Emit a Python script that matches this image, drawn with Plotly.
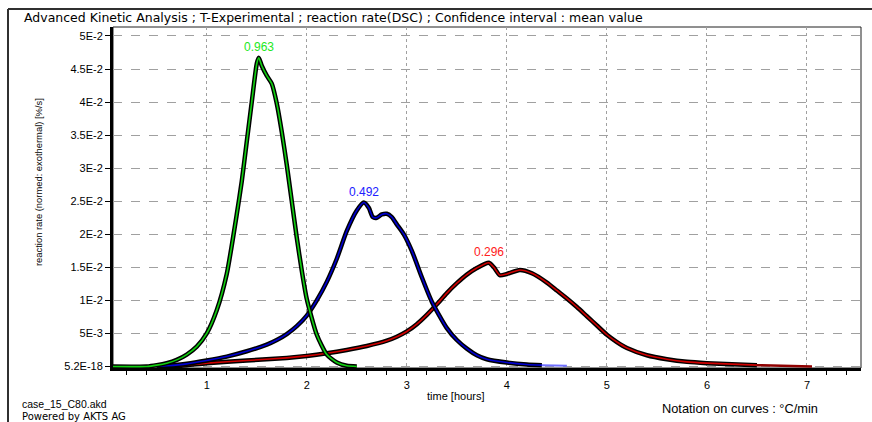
import plotly.graph_objects as go

# ---------------- data ----------------
green_t = [0.06, 0.4, 0.5, 0.6, 0.7, 0.8, 0.9, 1.0, 1.1, 1.2, 1.3, 1.35, 1.4, 1.45, 1.5, 1.52,
           1.55, 1.6, 1.65, 1.7, 1.75, 1.8, 1.85, 1.9, 1.95, 2.0, 2.1, 2.2, 2.3, 2.4, 2.5]
green_v = [0, 0, 0.0002, 0.0005, 0.0010, 0.0018, 0.0030, 0.0050, 0.0085, 0.0140, 0.0230, 0.0280,
           0.0340, 0.0400, 0.0458, 0.0467, 0.0455, 0.0440, 0.0428, 0.0398, 0.0355, 0.0305, 0.0250,
           0.0195, 0.0145, 0.0102, 0.0048, 0.0018, 0.0006, 0.0001, 0]

blue_t = [0.5, 0.6, 0.8, 1.0, 1.2, 1.4, 1.6, 1.7, 1.8, 1.9, 2.0, 2.1, 2.2, 2.3, 2.4, 2.5, 2.57,
          2.62, 2.66, 2.70, 2.75, 2.8, 2.85, 2.9, 2.97, 3.05, 3.15, 3.25, 3.4, 3.5, 3.6, 3.7,
          3.8, 4.0, 4.2, 4.35]
blue_v = [0, 0.0001, 0.0004, 0.0009, 0.0015, 0.0023, 0.0033, 0.0040, 0.0049, 0.0061, 0.0077,
          0.0100, 0.0128, 0.0163, 0.0205, 0.0236, 0.0248, 0.0240, 0.0226, 0.0225, 0.0230, 0.0231,
          0.0226, 0.0215, 0.0200, 0.0175, 0.0135, 0.0098, 0.0058, 0.0040, 0.0027, 0.0017, 0.0011,
          0.0006, 0.0003, 0.0002]
blue_tail_t = [4.35, 4.6]
blue_tail_v = [0.0002, 0.0001]

red_t = [0.6, 0.8, 1.0, 1.4, 1.8, 2.0, 2.2, 2.4, 2.6, 2.8, 2.9, 3.0, 3.1, 3.2, 3.3, 3.4, 3.5,
         3.6, 3.7, 3.82, 3.87, 3.93, 4.0, 4.13, 4.25, 4.4, 4.5, 4.6, 4.7, 4.8, 4.9, 5.0, 5.1,
         5.2, 5.4, 5.6, 5.8, 6.0, 6.5]
red_v = [0, 0.0002, 0.0005, 0.0009, 0.0013, 0.0016, 0.0020, 0.0025, 0.0031, 0.0039, 0.0045,
         0.0053, 0.0064, 0.0078, 0.0094, 0.0111, 0.0126, 0.0139, 0.0149, 0.0157, 0.0150, 0.0138,
         0.0140, 0.0146, 0.0141, 0.0127, 0.0115, 0.0103, 0.0090, 0.0076, 0.0062, 0.0048, 0.0037,
         0.0028, 0.0017, 0.0011, 0.0007, 0.0005, 0.0002]
red_tail_t = [6.5, 7.0, 7.05]
red_tail_v = [0.0002, 0.0001, 0]

rates = ["0.963", "0.492", "0.296"]
peak_t = [1.52, 2.57, 3.82]
peak_v = [0.0467, 0.0248, 0.0157]
label_colors = ["#22e822", "#2020ff", "#ff2020"]

ytick_vals = [0, 0.005, 0.01, 0.015, 0.02, 0.025, 0.03, 0.035, 0.04, 0.045, 0.05]
ytick_text = ["5.2E-18", "5E-3", "1E-2", "1.5E-2", "2E-2", "2.5E-2", "3E-2", "3.5E-2", "4E-2",
              "4.5E-2", "5E-2"]
xtick_vals = [1, 2, 3, 4, 5, 6, 7]

# ---------------- layout geometry ----------------
W, H = 872, 422
L, R, T, B = 113, 861, 27, 368


def px(x):
    return (x - L) / (R - L)


def py(y):
    return (B - y) / (B - T)


FONT = "Arial, Liberation Sans, sans-serif"
WIDE = "DejaVu Sans, Verdana, sans-serif"

fig = go.Figure()


def curve(t, v, color, w_out=4.5, w_in=1.6):
    fig.add_trace(go.Scatter(x=t, y=v, mode="lines", line=dict(color="black", width=w_out,
                  shape="spline", smoothing=0.6), hoverinfo="skip", showlegend=False))
    fig.add_trace(go.Scatter(x=t, y=v, mode="lines", line=dict(color=color, width=w_in,
                  shape="spline", smoothing=0.6), showlegend=False))


curve(red_t, red_v, "#d00000")
fig.add_trace(go.Scatter(x=red_tail_t, y=red_tail_v, mode="lines",
                         line=dict(color="#900000", width=2.5), showlegend=False))
curve(blue_t, blue_v, "#0000d0")
fig.add_trace(go.Scatter(x=blue_tail_t, y=blue_tail_v, mode="lines",
                         line=dict(color="#7070ff", width=2), showlegend=False))
curve(green_t, green_v, "#10d010")

for r, t, v, c in zip(rates, peak_t, peak_v, label_colors):
    fig.add_annotation(x=t, y=v, text=r, showarrow=False, yanchor="bottom", yshift=2,
                       font=dict(family=FONT, size=12, color=c))

# outer frame and plot border
fig.add_shape(type="line", xref="paper", yref="paper", x0=px(8), x1=px(872), y0=py(9), y1=py(9),
              line=dict(color="#303030", width=2))
fig.add_shape(type="line", xref="paper", yref="paper", x0=px(8), x1=px(8), y0=py(9), y1=py(422),
              line=dict(color="#303030", width=2))
fig.add_shape(type="rect", xref="paper", yref="paper", x0=0, x1=1, y0=0, y1=1,
              line=dict(color="#202020", width=1), layer="below")

# texts
fig.add_annotation(xref="paper", yref="paper", x=px(22), y=py(17), xanchor="left", yanchor="middle",
                   text="Advanced Kinetic Analysis ; T-Experimental ; reaction rate(DSC) ; Confidence interval : mean value",
                   showarrow=False, font=dict(family=WIDE, size=12.5, color="black"))
fig.add_annotation(xref="paper", yref="paper", x=px(38), y=py(182), xanchor="center", yanchor="middle",
                   text="reaction rate (normed: exothermal) [%/s]", textangle=-90,
                   showarrow=False, font=dict(family=FONT, size=9.4, color="black"))
fig.add_annotation(xref="paper", yref="paper", x=px(455), y=py(396), xanchor="center", yanchor="middle",
                   text="time [hours]", showarrow=False, font=dict(family=FONT, size=11, color="black"))
fig.add_annotation(xref="paper", yref="paper", x=px(20), y=py(404), xanchor="left", yanchor="middle",
                   text="case_15_C80.akd", showarrow=False, font=dict(family=FONT, size=10.5, color="black"))
fig.add_annotation(xref="paper", yref="paper", x=px(20), y=py(416), xanchor="left", yanchor="middle",
                   text="Powered by AKTS AG", showarrow=False, font=dict(family=WIDE, size=10, color="black"))
fig.add_annotation(xref="paper", yref="paper", x=px(820), y=py(409), xanchor="right", yanchor="middle",
                   text="Notation on curves : °C/min", showarrow=False,
                   font=dict(family=FONT, size=12.8, color="black"))

fig.update_layout(
    width=W, height=H,
    margin=dict(l=L, r=W - R, t=T, b=H - B, pad=0),
    paper_bgcolor="white", plot_bgcolor="white",
    font=dict(family=FONT, size=11, color="black"),
    xaxis=dict(range=[0.063, 7.54], tickvals=xtick_vals, ticks="outside", ticklen=5,
               tickcolor="black", showline=True, linecolor="black", linewidth=3,
               showgrid=True, gridcolor="#a0a0a0", griddash="dot", gridwidth=1, zeroline=False,
               minor=dict(dtick=0.2, ticks="outside", ticklen=4, tickcolor="black", showgrid=False),
               tickfont=dict(family=FONT, size=11), fixedrange=True),
    yaxis=dict(range=[-0.00023, 0.05136], tickvals=ytick_vals, ticktext=ytick_text,
               ticks="outside", ticklen=5, tickcolor="black", showline=True, linecolor="black",
               linewidth=3, showgrid=True, gridcolor="#a0a0a0", griddash="dash", gridwidth=1,
               zeroline=False, tickfont=dict(family=FONT, size=11), fixedrange=True),
)

fig.write_html("out.html")
